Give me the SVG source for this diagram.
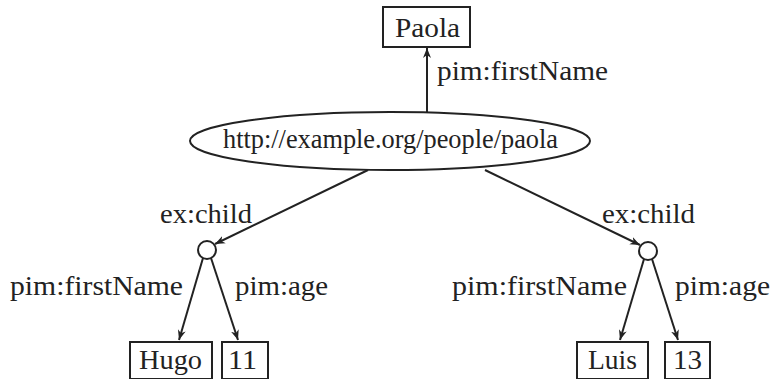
<svg xmlns="http://www.w3.org/2000/svg" width="772" height="379" viewBox="0 0 772 379">
<style>
text{font-family:"Liberation Serif","DejaVu Serif",serif;font-size:28px;fill:#222}
.box{fill:#fff;stroke:#222;stroke-width:2}
.edge{stroke:#222;stroke-width:2;fill:none;marker-end:url(#ah)}
</style>
<defs>
<marker id="ah" viewBox="0 0 10 10" refX="10" refY="5" markerWidth="5" markerHeight="5" orient="auto" markerUnits="strokeWidth">
<path d="M0,1 L10,5 L0,9 L3,5 z" fill="#222"/>
</marker>
</defs>
<rect width="772" height="379" fill="#fff"/>
<g id="connectors">
<line class="edge" x1="427" y1="112" x2="427" y2="48"/>
<line class="edge" x1="368" y1="170" x2="215" y2="244"/>
<line class="edge" x1="485" y1="170" x2="640" y2="245"/>
<line class="edge" x1="203" y1="258" x2="179" y2="340"/>
<line class="edge" x1="211" y1="258" x2="238" y2="340"/>
<line class="edge" x1="644" y1="259" x2="620" y2="340"/>
<line class="edge" x1="652" y1="259" x2="678" y2="340"/>
<text x="437" y="80" textLength="171" lengthAdjust="spacingAndGlyphs">pim:firstName</text>
<text x="160" y="223" textLength="92" lengthAdjust="spacingAndGlyphs">ex:child</text>
<text x="602" y="223" textLength="93" lengthAdjust="spacingAndGlyphs">ex:child</text>
<text x="10" y="295" textLength="173" lengthAdjust="spacingAndGlyphs">pim:firstName</text>
<text x="235" y="295" textLength="93" lengthAdjust="spacingAndGlyphs">pim:age</text>
<text x="452" y="295" textLength="175" lengthAdjust="spacingAndGlyphs">pim:firstName</text>
<text x="675" y="295" textLength="95" lengthAdjust="spacingAndGlyphs">pim:age</text>
</g>
<g id="paola">
<rect class="box" x="383" y="7" width="87" height="40"/>
<text x="395" y="37" textLength="65" lengthAdjust="spacingAndGlyphs">Paola</text>
</g>
<g id="uri">
<ellipse class="box" cx="390" cy="141" rx="200" ry="29"/>
<text x="223" y="148" textLength="335" lengthAdjust="spacingAndGlyphs">http://example.org/people/paola</text>
</g>
<g id="bnode1">
<circle class="box" cx="207" cy="250" r="9"/>
</g>
<g id="bnode2">
<circle class="box" cx="648" cy="251" r="9"/>
</g>
<g id="hugo">
<rect class="box" x="130" y="342" width="82" height="37"/>
<text x="139" y="369" textLength="63" lengthAdjust="spacingAndGlyphs">Hugo</text>
</g>
<g id="age11">
<rect class="box" x="222" y="342" width="46" height="37"/>
<text x="228" y="369" textLength="29" lengthAdjust="spacingAndGlyphs">11</text>
</g>
<g id="luis">
<rect class="box" x="577" y="342" width="71" height="37"/>
<text x="588" y="369" textLength="49" lengthAdjust="spacingAndGlyphs">Luis</text>
</g>
<g id="age13">
<rect class="box" x="665" y="342" width="45" height="37"/>
<text x="673" y="369" textLength="29" lengthAdjust="spacingAndGlyphs">13</text>
</g>
</svg>
